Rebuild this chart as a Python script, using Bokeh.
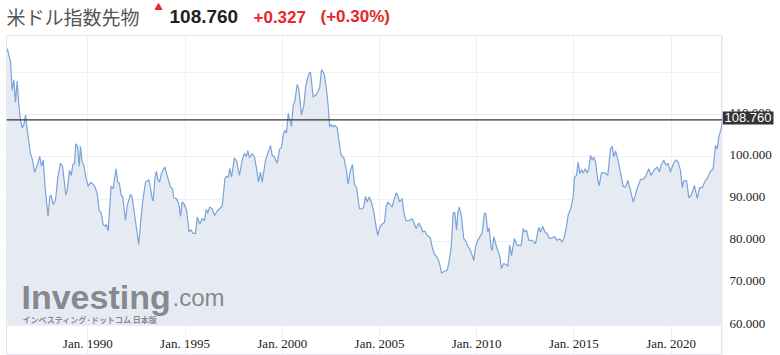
import datetime as dt
from bokeh.plotting import figure
from bokeh.layouts import column, row
from bokeh.models import (Range1d, FixedTicker, Span, Label, Grid, ColumnDataSource)
from bokeh.embed import file_html
from bokeh.resources import INLINE

# ---------------- data ----------------
title_name = "米ドル指数先物"
last_price = 108.760
change_txt = "+0.327"
change_pct_txt = "(+0.30%)"

# decimal-year dates of the closes
dates = [
    1985.86, 1986.03, 1986.11, 1986.20, 1986.28, 1986.37, 1986.45, 1986.54, 1986.63, 1986.71,
    1986.80, 1986.88, 1987.05, 1987.14, 1987.27, 1987.40, 1987.53, 1987.62, 1987.71, 1987.82,
    1987.96, 1988.05, 1988.12, 1988.22, 1988.34, 1988.46, 1988.60, 1988.70, 1988.87, 1988.94,
    1989.06, 1989.15, 1989.23, 1989.32, 1989.38, 1989.47, 1989.56, 1989.62, 1989.71, 1989.79,
    1989.90, 1990.02, 1990.14, 1990.28, 1990.38, 1990.48, 1990.59, 1990.69, 1990.79, 1990.90,
    1990.96, 1991.05, 1991.20, 1991.31, 1991.37, 1991.46, 1991.54, 1991.62, 1991.72, 1991.80,
    1991.94, 1992.03, 1992.20, 1992.28, 1992.45, 1992.62, 1992.71, 1992.83, 1992.97, 1993.05,
    1993.14, 1993.22, 1993.31, 1993.36, 1993.45, 1993.53, 1993.60, 1993.69, 1993.78, 1993.96,
    1994.08, 1994.25, 1994.36, 1994.42, 1994.56, 1994.68, 1994.77, 1994.85, 1994.97, 1995.08,
    1995.21, 1995.32, 1995.40, 1995.54, 1995.63, 1995.76, 1995.88, 1996.00, 1996.09, 1996.17,
    1996.27, 1996.40, 1996.52, 1996.65, 1996.77, 1996.91, 1996.96, 1997.05, 1997.13, 1997.22,
    1997.30, 1997.39, 1997.54, 1997.65, 1997.80, 1997.94, 1998.06, 1998.15, 1998.23, 1998.32,
    1998.45, 1998.57, 1998.68, 1998.78, 1998.88, 1998.97, 1999.14, 1999.26, 1999.40, 1999.48,
    1999.60, 1999.74, 1999.87, 1999.96, 2000.05, 2000.13, 2000.22, 2000.31, 2000.39, 2000.48,
    2000.56, 2000.64, 2000.77, 2000.85, 2000.99, 2001.11, 2001.20, 2001.28, 2001.37, 2001.45,
    2001.59, 2001.71, 2001.83, 2001.93, 2002.02, 2002.11, 2002.17, 2002.28, 2002.36, 2002.44,
    2002.52, 2002.60, 2002.70, 2002.83, 2002.91, 2003.03, 2003.17, 2003.30, 2003.39, 2003.51,
    2003.61, 2003.71, 2003.82, 2003.97, 2004.11, 2004.19, 2004.28, 2004.37, 2004.47, 2004.57,
    2004.71, 2004.83, 2004.91, 2005.02, 2005.14, 2005.26, 2005.34, 2005.43, 2005.57, 2005.65,
    2005.74, 2005.86, 2005.94, 2006.03, 2006.17, 2006.25, 2006.37, 2006.51, 2006.68, 2006.76,
    2006.89, 2007.02, 2007.14, 2007.23, 2007.33, 2007.45, 2007.62, 2007.71, 2007.83, 2007.97,
    2008.09, 2008.20, 2008.34, 2008.48, 2008.56, 2008.69, 2008.79, 2008.87, 2008.96, 2009.03,
    2009.11, 2009.22, 2009.33, 2009.42, 2009.54, 2009.64, 2009.77, 2009.85, 2009.94, 2010.05,
    2010.28, 2010.40, 2010.47, 2010.57, 2010.64, 2010.74, 2010.80, 2010.88, 2011.05, 2011.19,
    2011.27, 2011.39, 2011.53, 2011.60, 2011.70, 2011.79, 2011.94, 2012.08, 2012.29, 2012.39,
    2012.47, 2012.56, 2012.68, 2012.85, 2013.02, 2013.19, 2013.28, 2013.40, 2013.50, 2013.62,
    2013.74, 2013.88, 2014.00, 2014.14, 2014.27, 2014.40, 2014.48, 2014.60, 2014.70, 2014.86,
    2014.96, 2015.03, 2015.13, 2015.22, 2015.30, 2015.39, 2015.48, 2015.59, 2015.68, 2015.76,
    2015.85, 2015.94, 2016.02, 2016.11, 2016.23, 2016.30, 2016.42, 2016.57, 2016.67, 2016.74,
    2016.88, 2016.97, 2017.05, 2017.14, 2017.25, 2017.39, 2017.53, 2017.65, 2017.77, 2017.91,
    2018.05, 2018.13, 2018.25, 2018.42, 2018.59, 2018.71, 2018.85, 2018.97, 2019.11, 2019.28,
    2019.40, 2019.49, 2019.62, 2019.74, 2019.85, 2019.96, 2020.10, 2020.24, 2020.36, 2020.48,
    2020.57, 2020.65, 2020.79, 2020.91, 2021.03, 2021.20, 2021.34, 2021.46, 2021.59, 2021.76,
    2021.88, 2022.02, 2022.16, 2022.28, 2022.37, 2022.45, 2022.57, 2022.65,
]

closes = [
    125.7, 122.5, 115.8, 118.3, 113.0, 118.0, 112.6, 108.7, 106.9, 107.5,
    109.9, 106.7, 100.8, 99.6, 96.4, 98.0, 100.1, 97.8, 99.2, 92.0,
    85.9, 90.6, 90.9, 88.7, 89.7, 95.2, 98.5, 97.8, 90.9, 92.0,
    96.8, 95.6, 98.2, 98.4, 103.1, 102.5, 97.8, 102.5, 98.8, 98.2,
    95.2, 93.0, 94.0, 93.5, 92.8, 91.3, 87.3, 86.7, 84.0, 83.5,
    84.0, 82.4, 93.0, 92.5, 94.6, 97.2, 94.0, 93.8, 90.9, 90.5,
    84.9, 88.5, 91.1, 90.5, 84.9, 79.2, 84.1, 89.7, 94.0, 94.3,
    94.6, 92.8, 90.1, 89.5, 94.8, 96.6, 94.6, 94.0, 96.0, 97.6,
    95.6, 92.8, 92.5, 90.3, 90.1, 88.9, 85.9, 89.3, 88.7, 87.3,
    82.2, 82.7, 81.9, 81.8, 85.7, 84.1, 85.3, 84.9, 87.5, 86.7,
    88.1, 87.7, 86.1, 87.1, 87.7, 88.3, 90.5, 94.8, 95.4, 95.1,
    97.2, 95.2, 99.8, 99.0, 95.6, 99.2, 100.8, 100.1, 101.5, 99.8,
    100.8, 100.0, 97.2, 94.0, 96.4, 94.0, 99.2, 100.9, 102.7, 100.4,
    100.0, 98.5, 101.9, 102.2, 105.1, 106.3, 105.7, 110.3, 108.8, 107.2,
    112.2, 113.0, 117.2, 116.2, 109.9, 112.2, 116.6, 118.2, 119.8, 120.1,
    114.2, 114.6, 115.4, 116.6, 120.7, 120.1, 119.4, 115.8, 112.2, 107.1,
    107.7, 107.1, 107.5, 106.9, 103.9, 100.4, 99.8, 96.8, 93.6, 96.8,
    98.2, 93.5, 92.8, 87.7, 87.7, 88.1, 90.6, 89.3, 90.5, 89.5,
    86.9, 83.3, 81.4, 83.3, 84.1, 84.5, 88.1, 89.3, 88.5, 88.1,
    89.7, 91.5, 90.9, 89.3, 90.1, 86.9, 84.8, 84.9, 85.3, 84.5,
    83.0, 84.3, 83.3, 82.2, 82.4, 81.4, 80.8, 78.6, 76.9, 76.2,
    74.7, 72.4, 72.9, 73.1, 74.7, 78.6, 86.7, 86.9, 82.6, 86.9,
    88.1, 85.7, 80.6, 80.2, 78.8, 78.2, 76.6, 75.4, 78.6, 80.2,
    81.9, 86.7, 86.5, 82.2, 83.2, 78.6, 77.8, 81.1, 78.2, 76.4,
    73.5, 74.7, 74.4, 74.0, 79.0, 76.6, 80.6, 79.0, 79.0, 83.0,
    82.2, 82.6, 80.2, 80.2, 79.4, 83.3, 82.2, 83.5, 82.2, 81.8,
    80.6, 80.8, 81.1, 80.2, 80.6, 79.8, 80.6, 83.0, 86.1, 88.1,
    90.5, 95.2, 95.6, 98.8, 96.0, 97.0, 96.2, 97.2, 96.2, 97.0,
    100.4, 99.2, 100.0, 98.8, 94.4, 93.2, 96.2, 96.2, 96.0, 95.6,
    101.9, 102.5, 100.0, 101.4, 99.6, 96.4, 93.0, 92.8, 94.4, 92.0,
    89.3, 90.5, 92.5, 94.6, 94.8, 95.6, 97.2, 95.6, 96.8, 97.6,
    96.4, 98.2, 99.2, 98.0, 98.5, 96.4, 98.2, 99.3, 98.8, 96.8,
    92.7, 94.3, 94.4, 90.3, 90.9, 93.2, 90.1, 92.7, 92.7, 94.4,
    95.1, 96.6, 97.2, 102.7, 101.9, 104.7, 106.7, 108.76,
]

tick_years = [1990, 1995, 2000, 2005, 2010, 2015, 2020]
tick_year_labels = ["Jan. 1990", "Jan. 1995", "Jan. 2000", "Jan. 2005",
                    "Jan. 2010", "Jan. 2015", "Jan. 2020"]
y_ticks = [60, 70, 80, 90, 100, 110, 120]
y_labels = ["60.000", "70.000", "80.000", "90.000", "100.000", "110.000", ""]
x_start, x_end = 1985.82, 2022.64
y_start, y_end = 60, 128.8

FONT = "Liberation Sans"
JP_FONT = "Noto Sans CJK JP"
GRID = "#f0f0f4"
BORDER = "#e4e4ec"
WM = "#7b7b80"

# layout sizes (pixels)
HDR_H = 34
BODY_H = 321          # 1px top border + plot + date-label band
AXIS_H = 30           # date-label band below the plotting area
PLOT_H = BODY_H - 1 - AXIS_H
SIDE_W = 58
MAIN_W = 780 - SIDE_W

# value range of the frame: the plotting area spans y_start..y_end, the band below
# it (used for the date labels) extends the range downward
y_low = y_start - (y_end - y_start) * AXIS_H / PLOT_H


def to_dt(t):
    y = int(t)
    a = dt.datetime(y, 1, 1)
    b = dt.datetime(y + 1, 1, 1)
    return a + (b - a) * (t - y)


def blank(width, height, xr, yr, left=0, top=0):
    return figure(width=width, height=height, output_backend="svg", toolbar_location=None,
                  x_axis_type=None, y_axis_type=None, x_range=xr, y_range=yr,
                  min_border_left=left, min_border_right=0, min_border_top=top,
                  min_border_bottom=0, outline_line_color=None,
                  background_fill_color="white", border_fill_color="white")


# ---------------- header ----------------
hdr = blank(780, HDR_H, Range1d(0, 780), Range1d(0, HDR_H))
hdr.add_layout(Label(x=6, y=18, x_units="screen", y_units="screen", text=title_name,
                     text_font=JP_FONT, text_font_size="19px", text_color="#555555",
                     text_baseline="middle"))
hdr.scatter(x=[158], y=[27], marker="triangle", size=7, fill_color="#e8262b", line_color="#e8262b")
hdr.add_layout(Label(x=169, y=18, x_units="screen", y_units="screen",
                     text="{:.3f}".format(last_price),
                     text_font=FONT, text_font_style="bold", text_font_size="19px",
                     text_color="#222222", text_baseline="middle"))
hdr.add_layout(Label(x=253, y=18, x_units="screen", y_units="screen", text=change_txt,
                     text_font=FONT, text_font_style="bold", text_font_size="17px",
                     text_color="#e8262b", text_baseline="middle"))
hdr.add_layout(Label(x=320, y=18, x_units="screen", y_units="screen", text=change_pct_txt,
                     text_font=FONT, text_font_style="bold", text_font_size="17px",
                     text_color="#e8262b", text_baseline="middle"))

# ---------------- main chart ----------------
src = ColumnDataSource(dict(x=[to_dt(t) for t in dates], y=closes,
                            base=[y_start] * len(closes)))
yr = Range1d(y_low, y_end)

p = figure(width=MAIN_W, height=BODY_H, output_backend="svg", toolbar_location=None,
           x_axis_type="datetime", y_axis_type=None,
           x_range=Range1d(to_dt(x_start), to_dt(x_end)), y_range=yr,
           min_border_left=6, min_border_right=0, min_border_top=1, min_border_bottom=0,
           background_fill_color="white", border_fill_color="white")
p.xaxis.visible = False
p.xgrid.visible = False
p.outline_line_color = BORDER
p.outline_line_width = 1

tick_dates = [dt.datetime(y, 1, 1) for y in tick_years]
tick_ms = [(d - dt.datetime(1970, 1, 1)).total_seconds() * 1000.0 for d in tick_dates]
p.add_layout(Grid(dimension=0, ticker=FixedTicker(ticks=tick_ms), grid_line_color=GRID,
                  bounds=(y_start, y_end)))
p.add_layout(Grid(dimension=1, ticker=FixedTicker(ticks=y_ticks), grid_line_color=GRID))

p.varea(x="x", y1="base", y2="y", source=src, fill_color="#e6ebf3")
p.line(x="x", y="y", source=src, line_color="#7aa3d8", line_width=1.2)

p.add_layout(Span(location=last_price, dimension="width", line_color="#333333", line_width=1.3))

# date labels under the plotting area
p.text(x=tick_dates, y=[y_start] * len(tick_dates), text=tick_year_labels, y_offset=18,
       text_font=FONT, text_font_size="13px", text_color="#222222",
       text_align="center", text_baseline="middle")

# watermark
p.add_layout(Label(x=15, y=AXIS_H + 10, x_units="screen", y_units="screen", text="Investing",
                   text_font=FONT, text_font_style="bold", text_font_size="34px",
                   text_color=WM, text_alpha=0.9, text_baseline="bottom"))
p.add_layout(Label(x=166, y=AXIS_H + 15, x_units="screen", y_units="screen", text=".com",
                   text_font=FONT, text_font_size="24px",
                   text_color=WM, text_alpha=0.9, text_baseline="bottom"))
p.add_layout(Label(x=16, y=AXIS_H + 1, x_units="screen", y_units="screen",
                   text="インベスティング·ドットコム 日本版",
                   text_font=JP_FONT, text_font_style="bold", text_font_size="8px",
                   text_color=WM, text_alpha=0.9, text_baseline="bottom"))

# ---------------- right value axis ----------------
side = blank(SIDE_W, BODY_H, Range1d(0, SIDE_W), yr, top=1)
side.add_layout(Span(location=0, dimension="height", line_color=BORDER, line_width=1))
side.text(x=[7] * len(y_ticks), y=y_ticks, text=y_labels, text_font=FONT, y_offset=-2,
          text_font_size="13px", text_color="#222222", text_baseline="middle", text_align="left")
side.add_layout(Label(x=0, y=last_price, x_units="screen", y_units="data", y_offset=2,
                      text="{:.3f}".format(last_price), text_baseline="middle",
                      text_font=FONT, text_font_size="13px", text_color="white",
                      background_fill_color="#333333", padding=2))

layout = column(hdr, row(p, side, spacing=0), spacing=0)
open("out.html", "w").write(file_html(layout, INLINE))
